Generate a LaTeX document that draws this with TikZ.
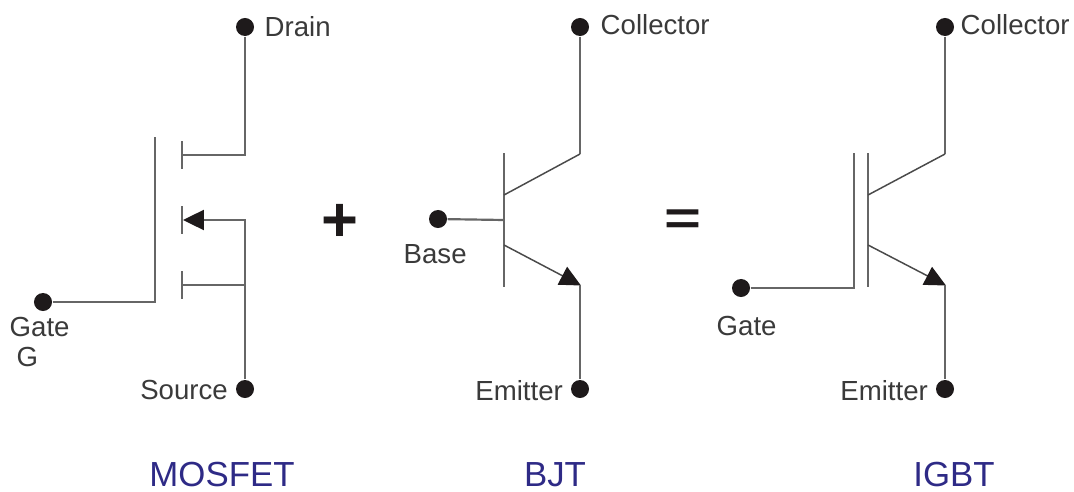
\documentclass[tikz,border=0pt]{standalone}
\usepackage{fontspec}
\setmainfont{Liberation Sans}
\usepackage{xcolor}
\usepackage{tikz}
\usetikzlibrary{arrows.meta}
\definecolor{wirecol}{HTML}{666666}
\definecolor{thincol}{HTML}{4A4A4A}
\definecolor{dotcol}{HTML}{1E1A1B}
\definecolor{labcol}{HTML}{3A3A3A}
\definecolor{titlecol}{HTML}{2E2A86}
\tikzset{
  wire/.style={draw=wirecol, line width=0.62pt, line join=miter},
  thin wire/.style={draw=thincol, line width=0.42pt},
  pt/.style={circle, fill=dotcol, inner sep=0pt, minimum size=0.18cm},
  lab/.style={text=labcol, font=\fontsize{7.85}{9}\selectfont, inner sep=0pt},
  title/.style={text=titlecol, font=\fontsize{9.9}{11}\selectfont, inner sep=0pt},
  op/.style={text=dotcol, font=\fontsize{18}{18}\selectfont\bfseries, inner sep=0pt},
  tip/.style={-{Triangle[length=0.21cm,width=0.2cm,color=dotcol,fill=dotcol]}, shorten >=-0.3pt}
}

\begin{document}
\begin{tikzpicture}[x=0.01cm,y=-0.01cm]
  \useasboundingbox (0,0) rectangle (1074,491);

  % MOSFET
  \node[pt] (drain) at (245,27) {};
  \node[pt] (source) at (245,389) {};
  \node[pt] (mgate) at (43,302) {};
  \coordinate (mtop) at (155,137);
  \coordinate (dbar) at (182,155);
  \coordinate (sbar) at (184,220);
  \coordinate (bbar) at (182,285);
  \draw[wire] (drain) |- (dbar);
  \draw[wire] (source) |- (bbar);
  \draw[wire,tip] (245,285) |- (sbar);
  \draw[wire] (mgate) -| (mtop);
  \foreach \y in {155,220,285}
    \draw[wire] (182,\y-14) -- (182,\y+14);
  \node[lab,anchor=west] (ldrain) at (264,27) {Drain};
  \node[lab,anchor=west] (lmgate) at (9,327) {Gate};
  \node[lab,anchor=west] (lg) at (16,357) {G};
  \node[lab,anchor=east] (lsource) at (228.5,390) {Source};

  \node[op] (plus) at (340,223) {+};

  % BJT
  \node[pt] (bcoll) at (580,27) {};
  \node[pt] (bemit) at (580,389) {};
  \node[pt] (base) at (438,219) {};
  \coordinate (bc) at (504,195);
  \coordinate (be) at (504,245);
  \coordinate (bb) at (504,220);
  \coordinate (bk) at (580,154);
  \coordinate (bj) at (580,285);
  \draw[wire] (504,153) -- (504,287);
  \draw[wire] (base) -- (bb);
  \draw[wire] (bcoll) -- (bk);
  \draw[thin wire] (bk) -- (bc);
  \draw[thin wire,tip] (be) -- (bj);
  \draw[wire] (bj) -- (bemit);
  \node[lab,anchor=west] (lbcoll) at (600,25) {Collector};
  \node[lab,anchor=west] (lbase) at (403,254) {Base};
  \node[lab,anchor=east] (lbemit) at (563.5,391) {Emitter};

  \node[op,yscale=0.75,transform shape] (equal) at (683,222) {=};

  % IGBT
  \node[pt] (icoll) at (945,27) {};
  \node[pt] (iemit) at (945,389) {};
  \node[pt] (igate) at (741,288) {};
  \coordinate (ic) at (868,195);
  \coordinate (ie) at (868,245);
  \coordinate (ik) at (945,154);
  \coordinate (ij) at (945,285);
  \coordinate (itop) at (854,153);
  \draw[wire] (igate) -| (itop);
  \draw[wire] (868,153) -- (868,287);
  \draw[wire] (icoll) -- (ik);
  \draw[thin wire] (ik) -- (ic);
  \draw[thin wire,tip] (ie) -- (ij);
  \draw[wire] (ij) -- (iemit);
  \node[lab,anchor=west] (licoll) at (960,25) {Collector};
  \node[lab,anchor=west] (ligate) at (716,326) {Gate};
  \node[lab,anchor=east] (liemit) at (928.5,391) {Emitter};

  \node[title] (tmos) at (222,474.5) {MOSFET};
  \node[title] (tbjt) at (555,474.5) {BJT};
  \node[title] (tigbt) at (954,474.5) {IGBT};
\end{tikzpicture}
\end{document}
